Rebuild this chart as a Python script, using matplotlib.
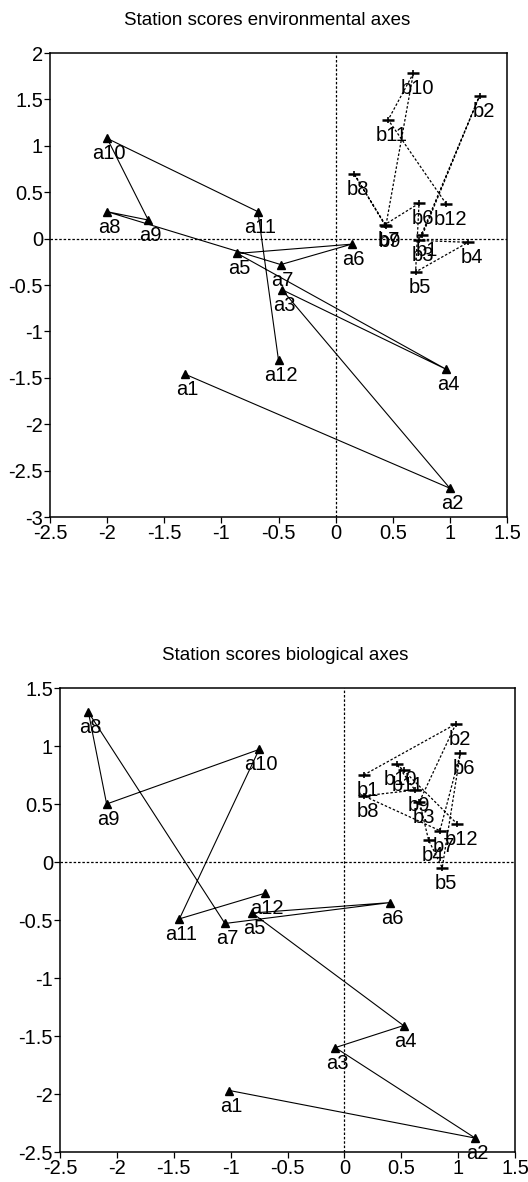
# python3

# Station scores on environmental and biological axes (two panels)

import numpy as np
from matplotlib import pylab as plt
import matplotlib as mpl

mpl.rcParams['font.family'] = ['Liberation Sans', 'DejaVu Sans']
mpl.rcParams['font.size'] = 14

# station labels
a_names = ['a1','a2','a3','a4','a5','a6','a7','a8','a9','a10','a11','a12']
b_names = ['b1','b2','b3','b4','b5','b6','b7','b8','b9','b10','b11','b12']

# environmental axes scores
env_a_x = [-1.32, 1.00, -0.47, 0.97, -0.86, 0.14, -0.48, -2.00, -1.64, -2.00, -0.68, -0.50]
env_a_y = [-1.46, -2.69, -0.55, -1.41, -0.16, -0.06, -0.28, 0.29, 0.20, 1.08, 0.29, -1.31]
env_b_x = [0.76, 1.26, 0.73, 1.16, 0.70, 0.73, 0.43, 0.16, 0.44, 0.68, 0.46, 0.97]
env_b_y = [0.04, 1.54, -0.02, -0.04, -0.36, 0.38, 0.15, 0.70, 0.14, 1.78, 1.28, 0.37]

# biological axes scores
bio_a_x = [-1.01, 1.15, -0.08, 0.52, -0.81, 0.40, -1.05, -2.25, -2.09, -0.75, -1.45, -0.70]
bio_a_y = [-1.97, -2.38, -1.60, -1.41, -0.44, -0.35, -0.53, 1.29, 0.50, 0.97, -0.49, -0.27]
bio_b_x = [0.17, 0.98, 0.66, 0.74, 0.86, 1.02, 0.84, 0.17, 0.62, 0.46, 0.52, 0.99]
bio_b_y = [0.75, 1.19, 0.52, 0.19, -0.05, 0.94, 0.27, 0.57, 0.62, 0.845, 0.79, 0.33]

xticks = [-2.5, -2, -1.5, -1, -0.5, 0, 0.5, 1, 1.5]
env_yticks = [-3, -2.5, -2, -1.5, -1, -0.5, 0, 0.5, 1, 1.5, 2]
bio_yticks = [-2.5, -2, -1.5, -1, -0.5, 0, 0.5, 1, 1.5]


def panel(ax, title, ax_x, ax_y, bx, by, ylim, yticks, title_x):
    ax.axhline(0, color='k', lw=0.9, ls=(0, (2, 1.5)), zorder=1)
    ax.axvline(0, color='k', lw=0.9, ls=(0, (2, 1.5)), zorder=1)
    ax.plot(ax_x, ax_y, '-', color='k', lw=0.8, zorder=2)
    ax.plot(ax_x, ax_y, '^', color='k', ms=6, zorder=3)
    ax.plot(bx, by, ls=(0, (2, 1.5)), color='k', lw=0.9, zorder=2)
    # crosses: wide horizontal bar, short vertical tick
    ax.plot(bx, by, '_', color='k', ms=9, mew=1.8, zorder=3)
    ax.plot(bx, by, '|', color='k', ms=5, mew=1.2, zorder=3)
    for i in range(len(a_names)):
        ax.annotate(a_names[i], (ax_x[i], ax_y[i]), xytext=(2, -6),
                    textcoords='offset pixels', ha='center', va='top', fontsize=14.5)
    for i in range(len(b_names)):
        ax.annotate(b_names[i], (bx[i], by[i]), xytext=(4, -6),
                    textcoords='offset pixels', ha='center', va='top', fontsize=14.5)
    ax.set_xlim(-2.5, 1.5)
    ax.set_ylim(ylim)
    ax.set_xticks(xticks)
    ax.set_xticklabels(['%g' % v for v in xticks])
    ax.set_yticks(yticks)
    ax.set_yticklabels(['%g' % v for v in yticks])
    ax.tick_params(direction='out', length=4, width=0.9, pad=1, labelsize=14.5)
    for s in ax.spines.values():
        s.set_linewidth(1.1)
    ax.set_title(title, fontsize=13.5, pad=20, x=title_x)


fig = plt.figure(figsize=(5.28, 11.82), dpi=100)
ax1 = fig.add_axes([50/528, 1-517/1182, 457/528, 464/1182])
ax2 = fig.add_axes([60/528, 1-1152/1182, 455/528, 464/1182])

panel(ax1, 'Station scores environmental axes', env_a_x, env_a_y, env_b_x, env_b_y, (-3, 2), env_yticks, 0.475)
panel(ax2, 'Station scores biological axes', bio_a_x, bio_a_y, bio_b_x, bio_b_y, (-2.5, 1.5), bio_yticks, 0.495)

plt.savefig('out.png', dpi=100)
